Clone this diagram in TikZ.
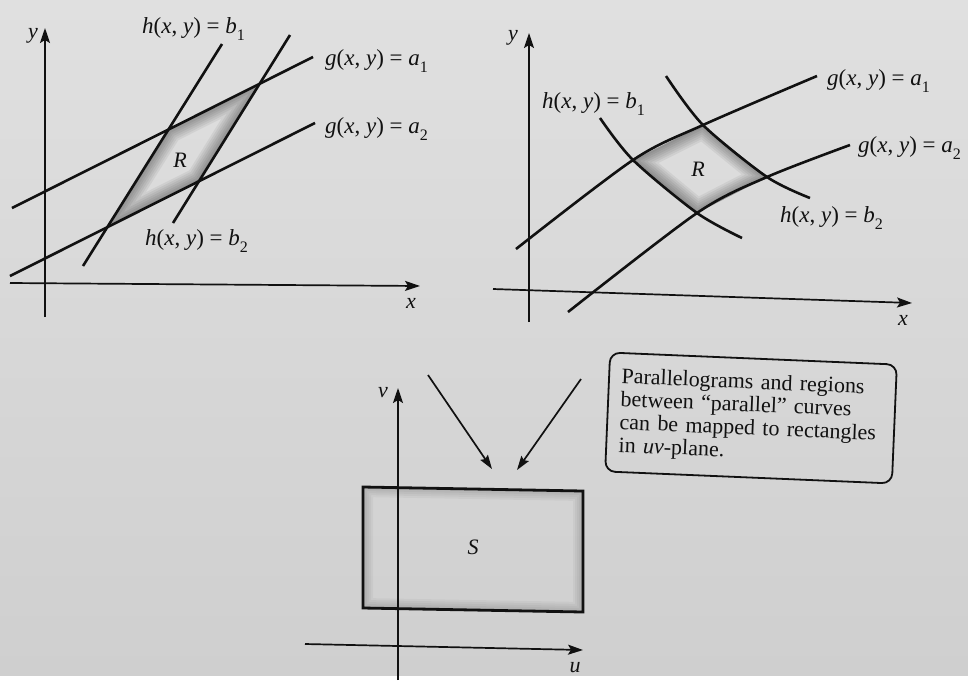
\documentclass[tikz,border=0pt]{standalone}
\usepackage{fontspec}
\setmainfont{Liberation Serif}
\usetikzlibrary{arrows.meta}
\definecolor{pgpaper}{HTML}{D9D9D9}
\definecolor{pgpaperhi}{HTML}{E0E0E0}
\definecolor{pgpaperlo}{HTML}{CFCFCF}
\definecolor{pgink}{HTML}{111111}
\tikzset{
  axis/.style={draw=pgink,line width=1.7pt,-{Stealth[length=15pt,width=10pt,inset=3pt]}},
  curve/.style={draw=pgink,line width=2.6pt},
  maparrow/.style={draw=pgink,line width=1.7pt,-{Stealth[length=14pt,width=9pt,inset=2pt]}},
  eqlabel/.style={font=\fontsize{23}{25}\selectfont,text=pgink,inner sep=0pt,anchor=base west},
  axlabel/.style={font=\fontsize{22}{24}\selectfont\itshape,text=pgink,inner sep=0pt},
  note/.style={draw=pgink,line width=1.8pt,rounded corners=10pt,align=left,
    font=\fontsize{22}{23}\selectfont,text=pgink,inner xsep=12pt,inner ysep=6pt},
}
\newcommand{\levelset}[3]{\textit{#1}(\textit{x}, \textit{y}) = \textit{#2}\raisebox{-.32em}{\fontsize{16}{16}\selectfont #3}}
\newcommand{\rimshade}[3]{%
  \begin{scope}
    \clip #3;
    \foreach \w in {4,8,...,#2}{\draw[line width=\w pt,black,opacity=#1] #3;}
  \end{scope}}

\begin{document}
\begin{tikzpicture}[x=1pt,y=-1pt]
  \shade[top color=pgpaperhi,bottom color=pgpaperlo] (0,0) rectangle (968,675);

  % ---- left: straight level lines ----
  \coordinate (r1) at (168.5,129.5);
  \coordinate (r2) at (259.7,83.7);
  \coordinate (r3) at (199,181.2);
  \coordinate (r4) at (107.3,227.2);
  \rimshade{.055}{28}{(r1)--(r2)--(r3)--(r4)--cycle}
  \draw[axis] (10,283) -- (420,286);
  \draw[axis] (45,317) -- (45,28);
  \draw[curve] (12,208) -- (313,57);
  \draw[curve] (10,276) -- (315,123);
  \draw[curve] (83,266) -- (222,44);
  \draw[curve] (173,223) -- (290,35);
  \node[axlabel] (ly) at (33,36) {y};
  \node[axlabel] (lx) at (411,303) {x};
  \node[axlabel] (lR) at (180,160) {R};
  \node[eqlabel] (lhb1) at (142,33) {\levelset{h}{b}{1}};
  \node[eqlabel] (lga1) at (325,65) {\levelset{g}{a}{1}};
  \node[eqlabel] (lga2) at (325,133) {\levelset{g}{a}{2}};
  \node[eqlabel] (lhb2) at (145,245) {\levelset{h}{b}{2}};

  % ---- right: curved level sets ----
  \coordinate (c1) at (633,160);
  \coordinate (c2) at (703,125);
  \coordinate (c3) at (767,177);
  \coordinate (c4) at (697,213);
  \rimshade{.055}{28}{(c1)--(c2)--(c3)--(c4)--cycle}
  \draw[axis] (493,289) -- (912,303);
  \draw[axis] (529,322) -- (529,33);
  \draw[curve] plot[smooth] coordinates {(516,249) (c1) (c2) (817,76)};
  \draw[curve] plot[smooth] coordinates {(568,312) (c4) (c3) (850,145)};
  \draw[curve] plot[smooth] coordinates {(600,118) (c1) (c4) (742,238)};
  \draw[curve] plot[smooth] coordinates {(666,76) (c2) (c3) (810,198)};
  \node[axlabel] (ry) at (513,38) {y};
  \node[axlabel] (rx) at (903,320) {x};
  \node[axlabel] (rR) at (698,169) {R};
  \node[eqlabel] (rhb1) at (542,108) {\levelset{h}{b}{1}};
  \node[eqlabel] (rga1) at (827,85) {\levelset{g}{a}{1}};
  \node[eqlabel] (rga2) at (858,152) {\levelset{g}{a}{2}};
  \node[eqlabel] (rhb2) at (780,222) {\levelset{h}{b}{2}};

  % ---- bottom: rectangle in the uv-plane ----
  \coordinate (s1) at (363,487);
  \coordinate (s2) at (583,491);
  \coordinate (s3) at (583,612);
  \coordinate (s4) at (363,608);
  \rimshade{.035}{20}{(s1)--(s2)--(s3)--(s4)--cycle}
  \draw[axis] (305,644) -- (583,650);
  \draw[axis] (398,680) -- (398,388);
  \draw[pgink,line width=2.8pt] (s1)--(s2)--(s3)--(s4)--cycle;
  \node[axlabel] (bv) at (383,393) {v};
  \node[axlabel] (bu) at (575,668) {u};
  \node[axlabel] (bS) at (473,547) {S};

  % arrows down to the rectangle
  \coordinate (fromL) at (428,375);
  \coordinate (toL) at (492,469);
  \coordinate (fromR) at (581,379);
  \coordinate (toR) at (517,470);
  \draw[maparrow] (fromL) -- (toL);
  \draw[maparrow] (fromR) -- (toR);

  \node[note,rotate=-2.4,text width=262pt,minimum width=287pt,minimum height=119pt] (note) at (751,418)
    {Parallelograms and regions\\between ``parallel'' curves\\can be mapped to rectangles\\in \textit{uv}-plane.};
\end{tikzpicture}
\end{document}
